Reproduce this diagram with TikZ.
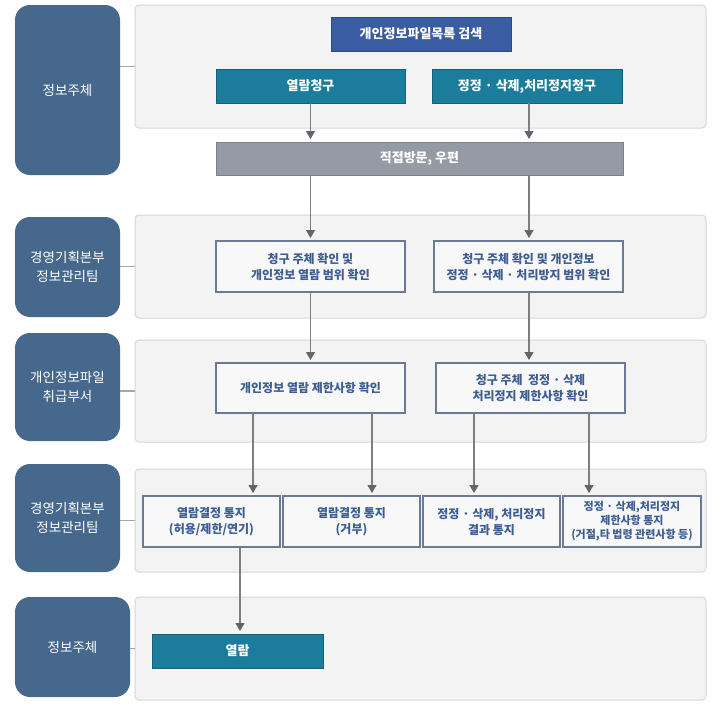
\documentclass[tikz,border=0pt]{standalone}
\usepackage{fontspec}
\setmainfont{Noto Sans CJK KR}
\usetikzlibrary{arrows.meta}
\definecolor{labelc}{HTML}{46688C}
\definecolor{panelf}{HTML}{F3F3F4}
\definecolor{paneld}{HTML}{D3D7DF}
\definecolor{bluef}{HTML}{3A5CA2}
\definecolor{blued}{HTML}{2C4A88}
\definecolor{tealf}{HTML}{1C7C9B}
\definecolor{teald}{HTML}{155F78}
\definecolor{grayf}{HTML}{959BA5}
\definecolor{grayd}{HTML}{7C828C}
\definecolor{whitef}{HTML}{F8F8F9}
\definecolor{whited}{HTML}{6A7B93}
\definecolor{txtblue}{HTML}{3D5D93}
\definecolor{linec}{HTML}{7C7E80}
\definecolor{tipc}{HTML}{636567}
\definecolor{linkc}{HTML}{A3A6AA}
\newcommand\mkbox[7]{\node[#6, minimum width={#4-#2}, minimum height={#5-#3}] (#1) at ({(#2+#4)/2},{(#3+#5)/2}) {#7};}
\begin{document}
\begin{tikzpicture}[x=1pt,y=-1pt,
  every node/.style={inner sep=0pt, outer sep=0pt, align=center},
  labelbox/.style={fill=labelc, draw=none, rounded corners=15pt, text=white,
     font={\fontsize{13.5}{19}\selectfont}},
  panel/.style={fill=panelf, draw=paneld, line width=1pt, rounded corners=4pt},
  bluebox/.style={fill=bluef, draw=blued, line width=0.8pt, text=white,
     font={\fontsize{13}{16}\selectfont\bfseries}},
  tealbox/.style={fill=tealf, draw=teald, line width=0.8pt, text=white,
     font={\fontsize{13}{16}\selectfont\bfseries}},
  graybox/.style={fill=grayf, draw=grayd, line width=0.8pt, text=white,
     font={\fontsize{13}{16}\selectfont\bfseries}},
  whitebox/.style={fill=whitef, draw=whited, line width=1.2pt, text=txtblue,
     font={\fontsize{12}{16}\selectfont\bfseries}},
  whitesmall/.style={fill=whitef, draw=whited, line width=1.2pt, text=txtblue,
     font={\fontsize{11}{14}\selectfont\bfseries}},
  flow/.style={draw=linec, line width=1.2pt,
     -{Triangle[width=9pt,length=8pt,fill=tipc,color=tipc]}, shorten >=3pt},
  link/.style={draw=linkc, line width=1.2pt}
]
\useasboundingbox (0,0) rectangle (725,710);
\fill[white] (0,0) rectangle (725,710);

% panels
\mkbox{p1}{135}{5}{706}{128}{panel}{}
\mkbox{p2}{135}{215}{706}{318}{panel}{}
\mkbox{p3}{135}{340}{706}{442}{panel}{}
\mkbox{p4}{135}{469}{706}{572}{panel}{}
\mkbox{p5}{135}{597}{706}{700}{panel}{}

% left labels
\mkbox{l1}{15}{5}{120}{175}{labelbox}{정보주체}
\mkbox{l2}{15}{217}{120}{317}{labelbox}{경영기획본부\\정보관리팀}
\mkbox{l3}{15}{333}{120}{441}{labelbox}{개인정보파일\\취급부서}
\mkbox{l4}{15}{464}{120}{572}{labelbox}{경영기획본부\\정보관리팀}
\mkbox{l5}{15}{597}{130}{697}{labelbox}{정보주체}

\foreach \l/\p in {l1/p1,l2/p2,l3/p3,l4/p4,l5/p5}
  \draw[link] (\p.west) -- (\l.east |- \p.west);

% row 1
\mkbox{search}{331}{17}{511}{51}{bluebox}{개인정보파일목록 검색}
\mkbox{req1}{216}{69}{405}{103}{tealbox}{열람청구}
\mkbox{req2}{432}{69}{622}{103}{tealbox}{정정 · 삭제,처리정지청구}
\mkbox{visit}{216}{142}{623}{175}{graybox}{직접방문, 우편}

% row 2
\mkbox{c1}{216}{241}{405}{292}{whitebox}{청구 주체 확인 및\\개인정보 열람 범위 확인}
\mkbox{c2}{434}{241}{623}{292}{whitebox}{청구 주체 확인 및 개인정보\\정정 · 삭제 · 처리방지 범위 확인}

% row 3
\mkbox{d1}{216}{363}{405}{413}{whitebox}{개인정보 열람 제한사항 확인}
\mkbox{d2}{436}{363}{625}{413}{whitebox}{청구 주체 \ 정정 · 삭제\\처리정지 제한사항 확인}

% row 4
\mkbox{e1}{143}{496}{280}{547}{whitebox}{열람결정 통지\\(허용/제한/연기)}
\mkbox{e2}{283}{496}{420}{547}{whitebox}{열람결정 통지\\(거부)}
\mkbox{e3}{423}{496}{560}{547}{whitebox}{정정 · 삭제, 처리정지\\결과 통지}
\mkbox{e4}{563}{496}{701}{547}{whitesmall}{정정 · 삭제,처리정지\\제한사항 통지\\(거절,타 법령 관련사항 등)}

% row 5
\mkbox{view}{152}{634}{323}{668}{tealbox}{열람}

% connectors
\draw[flow] (req1.south) -- (visit.north -| req1.south);
\draw[flow] (req2.south -| 529,0) -- (visit.north -| 529,0);
\draw[flow] (visit.south -| c1.north) -- (c1.north);
\draw[flow] (visit.south -| 529,0) -- (c2.north -| 529,0);
\draw[flow] (c1.south) -- (d1.north -| c1.south);
\draw[flow] (c2.south -| 529,0) -- (d2.north -| 529,0);
\draw[flow] (d1.south -| 253,0) -- (e1.north -| 253,0);
\draw[flow] (d1.south -| 372,0) -- (e2.north -| 372,0);
\draw[flow] (d2.south -| 474,0) -- (e3.north -| 474,0);
\draw[flow] (d2.south -| 589,0) -- (e4.north -| 589,0);
\draw[flow] (e1.south -| 240,0) -- (view.north -| 240,0);
\end{tikzpicture}
\end{document}
